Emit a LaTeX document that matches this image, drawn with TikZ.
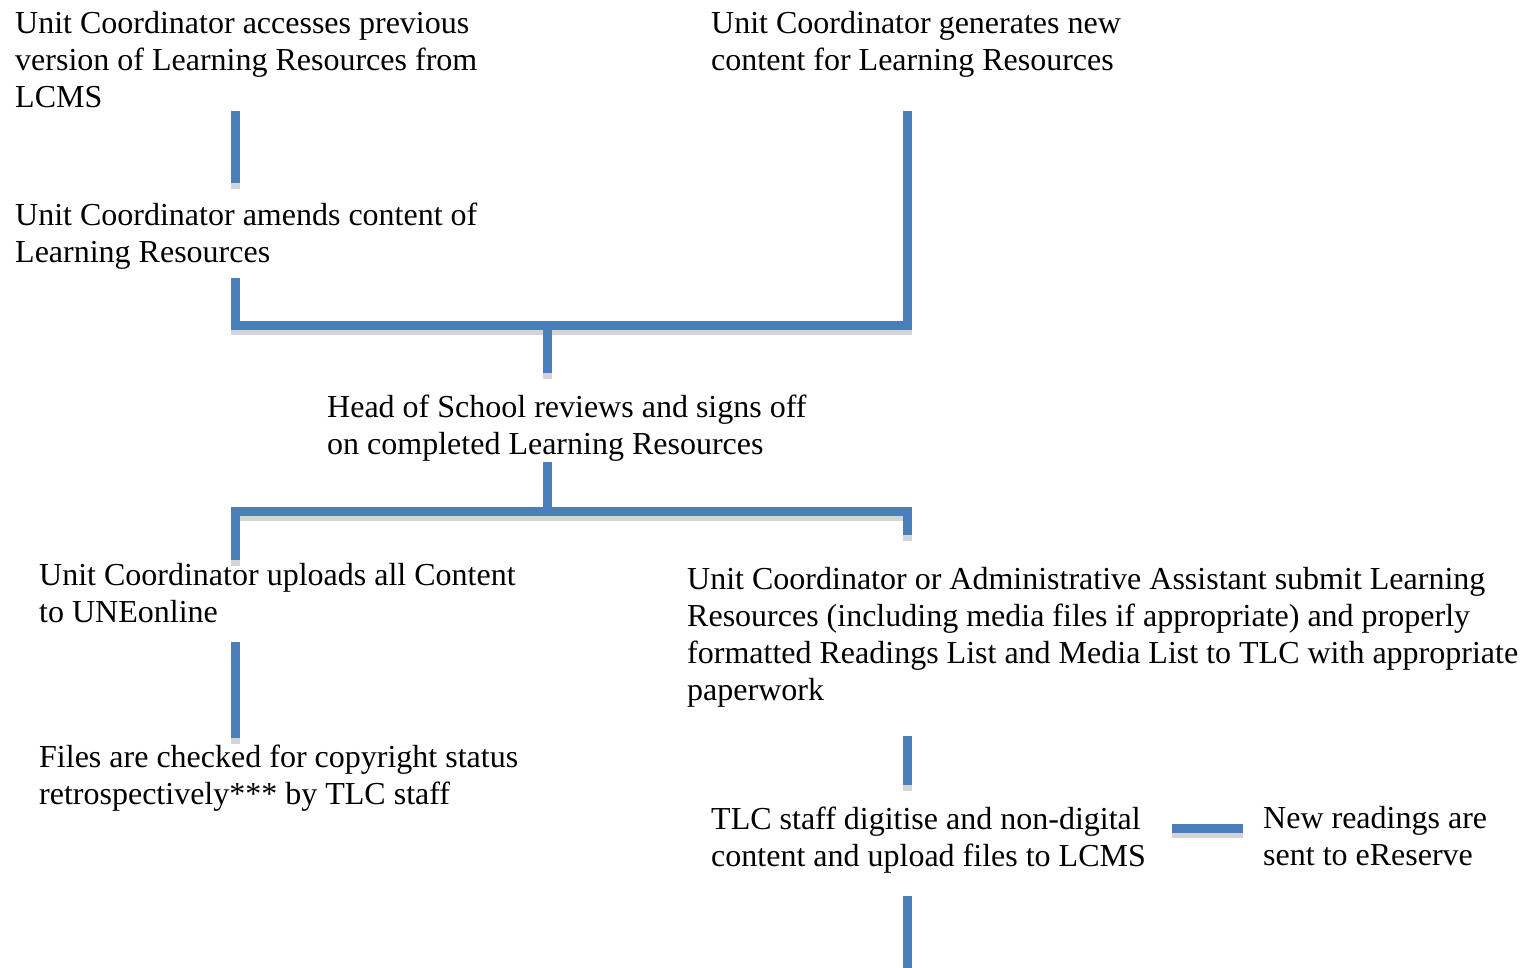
\documentclass[tikz,border=0pt]{standalone}
\usepackage{fontspec}
\setmainfont{Liberation Serif}
\definecolor{lineblue}{HTML}{4A7EBB}
\definecolor{shadowgray}{HTML}{D4D4D4}
\begin{document}
\begin{tikzpicture}[x=1pt,y=-1pt,
  txt/.style={anchor=base west,inner sep=0pt,align=left,font=\fontsize{32}{37}\selectfont},
  conn/.style={draw=lineblue,line width=9pt,line cap=butt,line join=miter},
  shade/.style={draw=shadowgray,line width=9pt,line cap=butt,line join=miter,transform canvas={yshift=-5.5pt}}]
\useasboundingbox (0,0) rectangle (1533,967);
% text blocks (anchored at the baseline of their last line)
\node[txt] (access) at (15,107) {Unit Coordinator accesses previous\\version of Learning Resources from\\LCMS};
\node[txt] (generate) at (711,70) {Unit Coordinator generates new\\content for Learning Resources};
\node[txt] (amend) at (15,262) {Unit Coordinator amends content of\\Learning Resources};
\node[txt] (head) at (327,454) {Head of School reviews and signs off\\on completed Learning Resources};
\node[txt] (upload) at (39,622.5) {Unit Coordinator uploads all Content\\to UNEonline};
\node[txt] (submit) at (687,700.5) {Unit Coordinator or Administrative Assistant submit Learning\\Resources (including media files if appropriate) and properly\\formatted Readings List and Media List to TLC with appropriate\\paperwork};
\node[txt] (checked) at (39,804.5) {Files are checked for copyright status\\retrospectively*** by TLC staff};
\node[txt] (digitise) at (711,866.5) {TLC staff digitise and non-digital\\content and upload files to LCMS};
\node[txt] (ereserve) at (1263,865.5) {New readings are\\sent to eReserve};
% connector coordinates
\coordinate (a1) at (235,111); \coordinate (a2) at (235,183);
\coordinate (g1) at (907,111); \coordinate (g2) at (907,325);
\coordinate (m1) at (235,278); \coordinate (m2) at (235,325);
\coordinate (j1) at (547,325); \coordinate (j2) at (547,373);
\coordinate (h1) at (547,462); \coordinate (h2) at (547,511);
\coordinate (b1) at (235,511); \coordinate (b2) at (907,511);
\coordinate (u1) at (235,560); \coordinate (s1) at (907,535);
\coordinate (u2) at (235,642); \coordinate (u3) at (235,738);
\coordinate (s2) at (907,736); \coordinate (s3) at (907,785);
\coordinate (e1) at (1172,828); \coordinate (e2) at (1243,828);
\coordinate (d1) at (907,896); \coordinate (d2) at (907,972);
% shadows
\draw[shade] (a1) -- (a2);
\draw[shade] (m1) -- (m2) -- (g2) -- (g1);
\draw[shade] (j1) -- (j2);
\draw[shade] (b1) -- (b2);
\draw[shade] (b1) -- (u1);
\draw[shade] (b2) -- (s1);
\draw[shade] (u2) -- (u3);
\draw[shade] (s2) -- (s3);
\draw[shade] (e1) -- (e2);
% connectors
\draw[conn] (a1) -- (a2);
\draw[conn] (m1) -- (m2) -- (g2) -- (g1);
\draw[conn] (j1) -- (j2);
\draw[conn] (h1) -- (h2);
\draw[conn] ([xshift=-4.5pt]b1) -- ([xshift=4.5pt]b2);
\draw[conn] (b1) -- (u1);
\draw[conn] (b2) -- (s1);
\draw[conn] (u2) -- (u3);
\draw[conn] (s2) -- (s3);
\draw[conn] (e1) -- (e2);
\draw[conn] (d1) -- (d2);
\end{tikzpicture}
\end{document}
